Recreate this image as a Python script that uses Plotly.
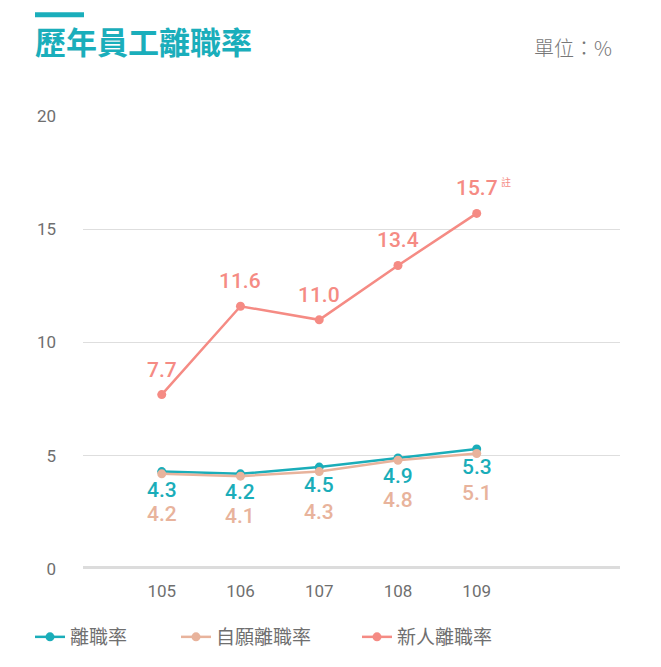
import plotly.graph_objects as go

years = [105, 106, 107, 108, 109]
year_labels = ["105", "106", "107", "108", "109"]
turnover = [4.3, 4.2, 4.5, 4.9, 5.3]
voluntary = [4.2, 4.1, 4.3, 4.8, 5.1]
new_hire = [7.7, 11.6, 11.0, 13.4, 15.7]
new_hire_text = ["7.7", "11.6", "11.0", "13.4", "15.7"]
y_ticks = [0, 5, 10, 15, 20]

TEAL = "#1aadb9"
PEACH = "#e8b39c"
SALMON = "#f58b84"
GRAY = "#6f6f6f"
NUMFONT = "Roboto, 'Noto Sans', sans-serif"
CJK = "'Noto Sans CJK TC', 'Noto Sans CJK SC', sans-serif"

L, R, T, B = 83, 41, 116, 97
PW = 661 - L - R
PH = 667 - T - B


def px(xpix):
    return (xpix - L) / PW


def py(ypix):
    return (667 - B - ypix) / PH


fig = go.Figure()
series = [("離職率", turnover, TEAL, "legend", 30),
          ("自願離職率", voluntary, PEACH, "legend2", 176),
          ("新人離職率", new_hire, SALMON, "legend3", 357)]
legends = {}
for name, vals, col, lg, lx in series:
    fig.add_trace(go.Scatter(
        x=years, y=vals, name=name, mode="lines+markers",
        line=dict(color=col, width=2.5),
        marker=dict(color=col, size=9),
        hoverinfo="skip", legend=lg,
    ))
    legends[lg] = dict(orientation="h", x=px(lx), xanchor="left", y=py(637), yanchor="middle",
                       font=dict(family=CJK, size=19, color=GRAY), itemwidth=30,
                       bgcolor="rgba(0,0,0,0)")

annotations = []
for x, v, t in zip(years, new_hire, new_hire_text):
    annotations.append(dict(x=x, y=v, text=t, showarrow=False, yshift=25,
                            font=dict(family=NUMFONT, size=21, color=SALMON, weight=500)))
for x, v in zip(years, turnover):
    annotations.append(dict(x=x, y=v, text=f"{v:.1f}", showarrow=False, yshift=-18,
                            font=dict(family=NUMFONT, size=21, color=TEAL, weight=500)))
for x, v in zip(years, voluntary):
    annotations.append(dict(x=x, y=v, text=f"{v:.1f}", showarrow=False, yshift=-40,
                            font=dict(family=NUMFONT, size=21, color=PEACH, weight=500)))
# note mark next to last new-hire label
annotations.append(dict(x=years[-1], y=new_hire[-1], text="註", showarrow=False,
                        xshift=29, yshift=32,
                        font=dict(family=CJK, size=10, color=SALMON)))
# title and unit
annotations.append(dict(xref="paper", yref="paper", x=px(33), y=py(40),
                        xanchor="left", yanchor="middle", text="<b>歷年員工離職率</b>",
                        showarrow=False, font=dict(family=CJK, size=31, color="#1aaebb")))
annotations.append(dict(xref="paper", yref="paper", x=px(614), y=py(47),
                        xanchor="right", yanchor="middle", text="單位：%",
                        showarrow=False, font=dict(family=CJK, size=20, color="#777777", weight=300)))

shapes = [
    dict(type="rect", xref="paper", yref="paper", x0=px(35), x1=px(84),
         y0=py(12), y1=py(17), fillcolor="#1aaebb", line=dict(width=0)),
    dict(type="line", xref="paper", yref="y", x0=0, x1=1, y0=0, y1=0,
         line=dict(color="#dcdcdc", width=6)),
]

fig.update_layout(
    width=661, height=667,
    margin=dict(l=L, r=R, t=T, b=B),
    paper_bgcolor="white", plot_bgcolor="white",
    showlegend=True,
    annotations=annotations,
    shapes=shapes,
    xaxis=dict(range=[104, 110.82], tickvals=years, ticktext=year_labels,
               showgrid=False, zeroline=False, showline=False, ticks="",
               ticklabelstandoff=10,
               tickfont=dict(family=NUMFONT, size=17, color=GRAY)),
    yaxis=dict(range=[0, 20], tickvals=y_ticks, showgrid=True, gridcolor="#dedede", gridwidth=1,
               zeroline=False, showline=False, ticks="", ticklabelstandoff=26,
               tickfont=dict(family=NUMFONT, size=17, color=GRAY)),
    **legends,
)

fig.write_html("out.html", config={"displayModeBar": False},
               post_script="document.body.style.margin='0';")
